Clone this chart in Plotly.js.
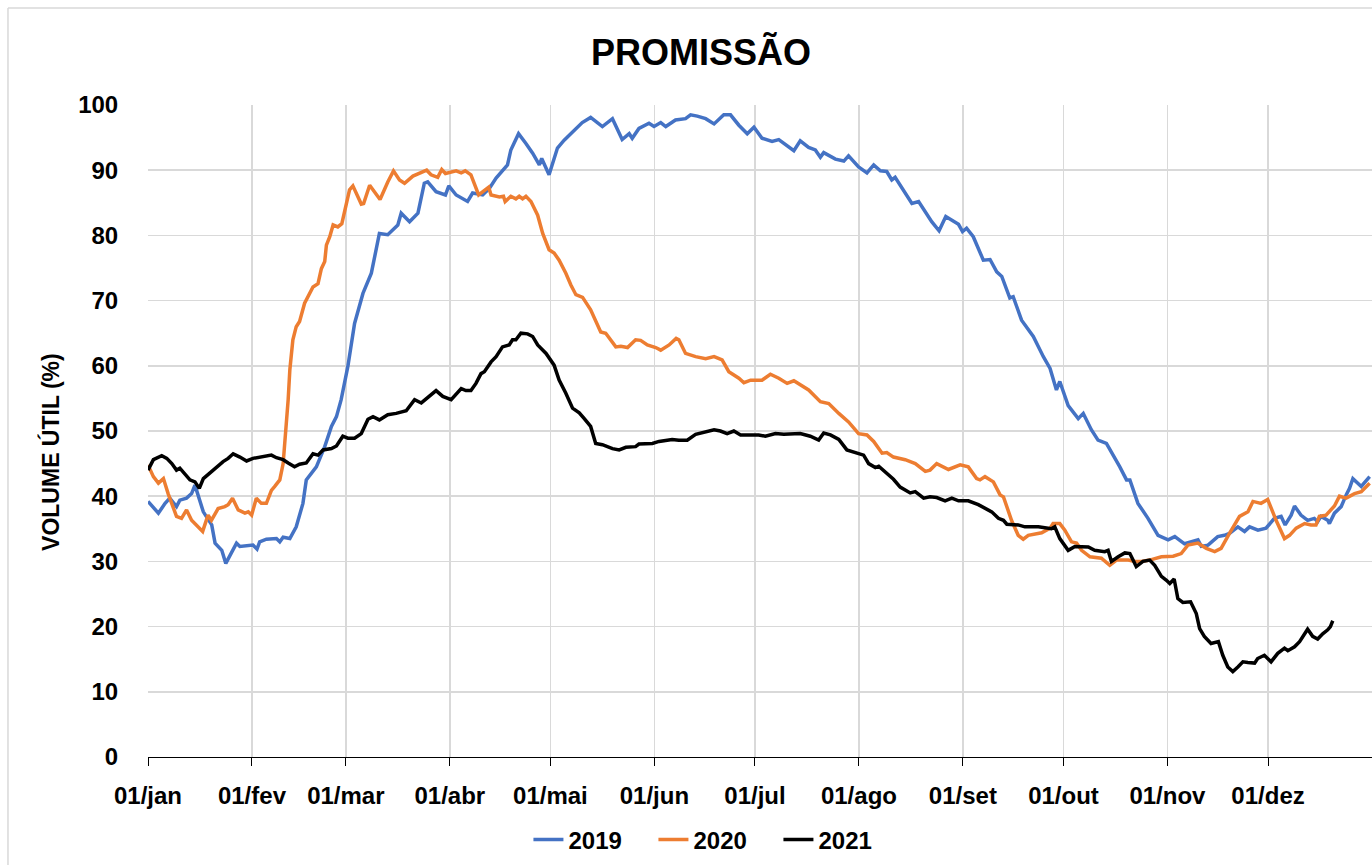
<!DOCTYPE html>
<html>
<head>
<meta charset="utf-8">
<script src="https://cdn.plot.ly/plotly-3.0.1.min.js"></script>
<style>html,body{margin:0;padding:0;background:#fff;}#chart{width:1372px;height:865px;}</style>
</head>
<body>
<div id="chart"></div>
<script>
// Tick positions (day of year) and labels
const tickDays = [0, 31, 59, 90, 120, 151, 181, 212, 243, 273, 304, 334];
const tickLabels = ["01/jan","01/fev","01/mar","01/abr","01/mai","01/jun","01/jul","01/ago","01/set","01/out","01/nov","01/dez"];

// 2019
const days2019 = [0,3.1,5.1,6.5,8.5,9.5,11.5,13,14,15.5,16.5,19,20,22,23.2,26.4,27.4,31.3,32.5,33.3,35.3,38.3,39.3,40.3,42.3,44.2,46.2,47.2,50.2,52.7,54.7,56.2,57.6,59.6,61.6,64.1,66.6,69,71.5,74.5,75.5,78,80.5,82.4,83.4,85.9,88.7,89.7,91.9,95.3,96.8,99.8,101.8,103.8,107.2,108.2,110.5,112.7,114.7,116.7,117.4,119.6,122.1,124.1,126.6,129.5,132,135.5,138.5,141.4,143.5,144.4,146.4,149.4,150.9,152.9,154.4,157.3,160.3,161.8,163.8,166.3,168.8,171.7,173.7,176.2,178.7,180.7,183.1,186.1,188.1,192.6,194.5,197,199,200.5,201.5,205,207.5,208.9,211.9,214.4,216.4,218.4,220.3,221.8,222.8,227.8,229.8,233.7,235.9,237.9,241.7,242.9,244.1,246.1,249.1,251.1,253.1,254.6,257,258,260.5,264,267,269,270.9,271.9,274.4,277.4,278.9,281.3,283.3,285.8,289.8,291.8,292.8,295.2,298.2,301.2,304.2,306.2,309.1,311.1,313.1,314.1,316.1,319,321,322.5,325,327,328.5,331,333.4,335.9,337.9,339.1,340.9,341.9,343.8,345.8,347.8,348.8,349.8,351.8,352.3,353.8,355.8,357.3,358.3,359.3,361.8,364.3];
const vol2019 = [39.2,37.4,38.9,39.7,38.4,39.4,39.7,40.4,41.7,39.4,37.6,35.6,32.8,31.7,29.7,32.8,32.3,32.5,31.9,33.0,33.4,33.5,33.0,33.7,33.5,35.3,38.9,42.5,44.5,47.6,50.7,52.2,54.8,59.9,66.5,71.1,74.2,80.3,80.1,81.6,83.4,82.1,83.4,88.0,88.2,86.7,86.2,87.6,86.2,85.2,86.5,86.2,87.2,88.8,90.8,93.1,95.6,94.1,92.6,90.8,91.8,89.3,93.4,94.6,95.9,97.3,98.1,96.7,97.9,94.7,95.6,94.9,96.4,97.2,96.7,97.3,96.7,97.7,97.9,98.5,98.3,97.9,97.1,98.5,98.5,96.9,95.6,96.6,94.9,94.4,94.7,93.0,94.5,93.5,93.1,92.0,92.7,91.7,91.4,92.2,90.5,89.6,90.8,89.9,89.8,88.5,88.9,84.9,85.2,82.1,80.7,82.9,81.7,80.6,81.1,79.8,76.2,76.3,74.4,73.7,70.4,70.6,67.0,64.5,61.4,59.6,56.3,57.6,53.9,51.9,52.7,50.2,48.6,48.1,44.5,42.5,42.5,38.9,36.6,34.0,33.3,33.8,32.7,33.0,33.3,32.3,32.5,33.8,34.0,34.3,35.3,34.6,35.3,34.8,35.1,36.6,36.9,35.6,37.1,38.5,37.1,36.3,36.6,36.1,36.9,36.3,35.8,37.4,38.4,40.2,41.2,42.7,41.5,43.0];

// 2020
const days2020 = [0,1.6,3.1,4.6,6,8.5,10,11.5,13,15,16.3,17.9,18.9,20.9,22.9,23.9,25.2,26.9,28.9,29.9,30.9,32.3,33.8,35.3,36.8,37.8,39.3,40.3,40.8,41.3,41.8,42.3,43.2,44.2,45.2,46.7,47.7,49.2,50.7,51.7,52.7,53.2,54.2,55.2,56.6,57.8,60.1,61.1,63.6,64.3,66.1,67.1,69.2,71.5,73.2,75,76.5,79,80.5,83.1,84.4,86.4,87.6,88.7,91.9,93.4,94.6,96.3,98.6,101.6,102.3,104.8,106,106.5,108.2,109.7,110.7,111.7,112.7,114.2,116.2,117.7,119.6,121.1,122.6,124.6,126.1,127.6,129.6,132,135,136.5,139.5,141,143,145.4,146.9,148.9,151.4,152.9,155.4,157.5,158.3,160.3,163.3,166.3,168.8,171.2,173.2,176.2,177.7,179.7,183.1,185.6,188.1,190.6,192.6,197,200.5,203,206,208.9,211.9,214.4,216.4,218.9,220.3,222.3,225.8,228.8,231.8,233.2,235.2,238.7,242.2,244.6,247.1,248.1,249.6,252.1,254.1,255.1,257.5,259.5,261,262.5,266.5,269,269.9,271.9,273.4,275.4,276.9,278.4,280.9,284.3,286.8,288.8,292.3,294.3,296.2,298.7,302.2,305.7,308.1,310.1,313.1,315.6,318.1,320,322.5,325.5,328,329.5,331.9,333.9,336.4,338.9,340.4,342.4,344.9,346.8,348.3,349.3,351.3,353.8,355.3,357.3,359.8,361.8,364.3];
const vol2020 = [44.8,43.0,42.0,42.7,40.4,36.9,36.6,37.9,36.3,35.3,34.6,37.1,36.3,38.1,38.4,38.7,39.7,37.9,37.4,37.6,37.1,39.7,38.9,38.9,40.9,41.5,42.5,45.0,48.1,52.2,54.8,59.4,64.0,66.0,66.8,69.6,70.6,72.1,72.6,74.9,76.0,78.5,79.8,81.6,81.3,81.8,87.0,87.6,84.8,84.9,87.7,87.0,85.5,88.2,89.9,88.5,88.0,89.1,89.4,90.0,89.3,88.9,90.1,89.5,89.9,89.6,89.9,89.3,86.2,87.4,86.2,85.9,86.0,85.2,86.0,85.6,86.0,85.6,86.0,85.2,83.1,80.3,77.8,77.3,76.2,74.2,72.4,70.9,70.5,68.6,65.2,65.0,62.9,63.0,62.8,64.0,63.9,63.2,62.8,62.4,63.2,64.2,64.0,61.9,61.4,61.1,61.4,60.9,59.1,58.1,57.4,57.8,57.8,58.7,58.1,57.3,57.7,56.3,54.5,54.2,52.7,51.4,49.6,49.4,48.4,46.6,46.7,46.0,45.6,45.0,43.8,44.0,45.0,44.1,44.8,44.5,42.7,42.5,43.0,42.2,40.2,39.9,36.3,34.0,33.4,34.0,34.4,35.1,35.8,35.8,34.8,33.0,32.8,31.7,30.7,30.5,29.4,30.2,30.2,30.0,30.0,30.2,30.7,30.8,31.2,32.5,32.8,32.0,31.5,32.0,34.3,36.9,37.6,39.2,38.9,39.5,36.3,33.5,34.0,35.1,35.8,35.6,35.6,36.9,37.1,38.5,40.0,39.7,40.4,40.7,42.0];

// 2021
const days2021 = [0,1.6,4.1,5.6,7.1,8.5,9.5,11,12.5,14,15.3,16.5,19,20.4,22.4,23.9,25.4,27.4,29.4,31.3,33.3,34.8,36.8,38.3,40.3,41.8,43.7,45.2,47.2,49.2,50.7,52.2,54.7,56.2,58.1,59.6,61.6,63.6,65.6,67.1,69,71.5,74,77,78,79.5,81.5,83.7,85.9,87.9,90.4,93.4,94.8,96.3,97.8,99.3,100.3,102.3,103.8,105.7,107.7,108.7,109.7,111.2,113.2,114.7,116.2,118.7,121.1,122.6,124.6,126.6,128.6,130.1,132,133.5,135.5,138.5,140.5,142.5,145.4,146.4,150.4,152.4,156.3,158.3,160.8,163.3,166.3,168.8,170.7,172.7,174.7,176.7,182.1,184.1,187.1,189.6,194.5,197.5,200,201.5,203.5,206,208.4,210.4,213.4,214.9,216.9,217.9,219.8,222.3,224.3,227.3,228.8,231.3,233.2,235.2,237.7,239.7,241.7,244.6,247.6,251.6,253.6,255.1,256.1,259.5,261.5,265.5,269.4,270.4,271.9,274.4,276.4,280.4,282.3,285.3,286.3,287.3,289.3,291.3,292.8,294.7,296.7,298.7,300.2,302.2,303.7,304.7,306,307.1,308.6,310.9,312.6,313.6,315,317,319.2,320.5,322,323.5,325,326.5,328,330,330.9,332.9,334.9,336.9,338.9,339.9,341.9,343.4,345.8,347.3,348.8,350.3,351.8,352.6,353.3];
const vol2021 = [44.0,45.6,46.2,45.8,45.0,44.0,44.3,43.3,42.5,42.2,41.2,42.7,43.8,44.5,45.3,45.8,46.5,46.0,45.4,45.8,46.0,46.1,46.3,45.9,45.6,45.1,44.5,44.9,45.1,46.5,46.3,47.1,47.3,47.7,49.2,48.9,48.9,49.6,51.8,52.2,51.7,52.5,52.7,53.1,53.8,54.8,54.3,55.3,56.2,55.3,54.8,56.5,56.2,56.2,57.3,58.8,59.1,60.6,61.4,62.9,63.2,64.0,64.0,65.0,64.9,64.5,63.2,61.9,60.1,57.8,55.8,53.5,52.8,51.9,50.7,48.1,47.9,47.3,47.1,47.5,47.6,48.0,48.1,48.4,48.7,48.6,48.6,49.5,49.9,50.2,50.0,49.6,50.0,49.4,49.4,49.2,49.6,49.5,49.6,49.2,48.6,49.7,49.4,48.7,47.1,46.8,46.3,45.0,44.4,44.6,43.8,42.6,41.4,40.5,40.7,39.7,39.9,39.8,39.3,39.7,39.3,39.3,38.7,37.6,36.6,36.3,35.7,35.6,35.3,35.3,35.0,35.3,33.5,31.7,32.3,32.2,31.7,31.5,31.7,30.0,30.7,31.3,31.2,29.2,30.0,30.2,29.4,27.7,27.1,26.6,27.3,24.3,23.7,23.8,22.0,19.7,18.5,17.4,17.7,15.6,13.8,13.1,13.8,14.6,14.5,14.4,15.1,15.6,14.6,15.9,16.7,16.3,16.9,17.7,19.6,18.5,18.1,18.9,19.5,20.0,20.9];

const FONT = "Liberation Sans, Arial, sans-serif";

const traces = [
  {x: days2019, y: vol2019, name: "2019", type: "scatter", mode: "lines", line: {color: "#4472C4", width: 3.5}},
  {x: days2020, y: vol2020, name: "2020", type: "scatter", mode: "lines", line: {color: "#ED7D31", width: 3.5}},
  {x: days2021, y: vol2021, name: "2021", type: "scatter", mode: "lines", line: {color: "#000000", width: 3.5}}
];

const layout = {
  width: 1372, height: 865,
  margin: {l: 148, r: 0, t: 105, b: 108},
  paper_bgcolor: "#ffffff", plot_bgcolor: "#ffffff",
  font: {family: FONT, color: "#000000", size: 24, weight: "bold"},
  title: {text: "PROMISSÃO", font: {family: FONT, size: 36, weight: "bold", color: "#000"}, x: 0.511, xanchor: "center", y: 0.94, yanchor: "middle"},
  xaxis: {
    range: [0, 365], tickvals: tickDays, ticktext: tickLabels,
    showgrid: true, gridcolor: "#d9d9d9", gridwidth: 1.5,
    zeroline: false, showline: true, linecolor: "#000000", linewidth: 1,
    ticks: "outside", ticklen: 8, tickcolor: "#000000", tickwidth: 1,
    ticklabelstandoff: 9,
    tickfont: {family: FONT, size: 24, weight: "bold", color: "#000"},
    fixedrange: true
  },
  yaxis: {
    range: [0, 100], tickvals: [0,10,20,30,40,50,60,70,80,90,100],
    showgrid: true, gridcolor: "#d9d9d9", gridwidth: 1.5,
    zeroline: false, showline: false,
    ticks: "outside", ticklen: 24, tickcolor: "rgba(0,0,0,0)",
    tickfont: {family: FONT, size: 24, weight: "bold", color: "#000"},
    fixedrange: true
  },
  legend: {orientation: "h", x: 0.464, xanchor: "center", y: -0.127, yanchor: "middle",
    font: {family: FONT, size: 24, weight: "bold", color: "#000"}, entrywidth: 80, entrywidthmode: "pixels", tracegroupgap: 0},
  showlegend: true,
  annotations: [
    {text: "VOLUME ÚTIL (%)", xref: "paper", yref: "paper", x: -0.0792, y: 0.468, xanchor: "center", yanchor: "middle",
     textangle: -90, showarrow: false, font: {family: FONT, size: 23, weight: "bold", color: "#000"}}
  ],
  shapes: [
    {type: "line", xref: "paper", yref: "paper", x0: -0.1144, x1: 1.2, y0: 1.1488, y1: 1.1488, line: {color: "#d9d9d9", width: 1.5}},
    {type: "line", xref: "paper", yref: "paper", x0: -0.1144, x1: -0.1144, y0: -0.2, y1: 1.1488, line: {color: "#d9d9d9", width: 1.5}}
  ]
};

Plotly.newPlot("chart", traces, layout, {displayModeBar: false, staticPlot: true});
</script>
</body>
</html>
